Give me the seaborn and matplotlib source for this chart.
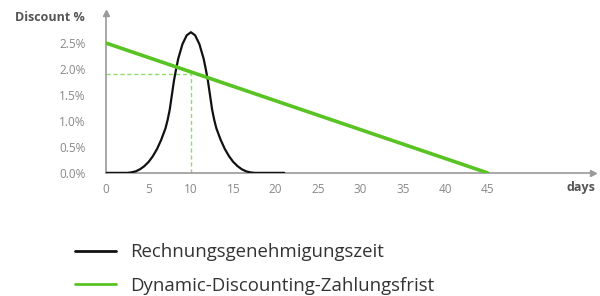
import pandas as pd
import matplotlib.pyplot as plt
import seaborn as sns

# --- Daten ---
approval_days = [0, 2.5, 3, 3.5, 4, 4.5, 5, 5.5, 6, 6.5, 7, 7.25, 7.5, 7.75, 8, 8.25, 8.5, 9, 9.5, 10,
                 10.5, 11, 11.5, 11.75, 12, 12.25, 12.5, 12.75, 13, 13.5, 14, 14.5, 15, 15.5, 16,
                 16.5, 17, 17.5, 21]
approval_share = [0, 0, 0.01, 0.03, 0.07, 0.13, 0.21, 0.32, 0.46, 0.64, 0.86, 1.02, 1.22, 1.5, 1.78, 2.0,
                  2.2, 2.48, 2.65, 2.71,
                  2.65, 2.48, 2.2, 2.0, 1.78, 1.5, 1.22, 1.02, 0.86, 0.64, 0.46, 0.32, 0.21, 0.13, 0.07,
                  0.03, 0.01, 0, 0]
discount_days = [0, 45]
discount_pct = [2.5, 0]
marked_day = 10
marked_discount = 1.9
x_ticks = [0, 5, 10, 15, 20, 25, 30, 35, 40, 45]
y_ticks = [0.0, 0.5, 1.0, 1.5, 2.0, 2.5]

label_black = "Rechnungsgenehmigungszeit"
label_green = "Dynamic-Discounting-Zahlungsfrist"

GREEN = "#58c322"
GREY = "#9a9a9a"

sns.set_style("white")
plt.rcParams["font.family"] = ["Open Sans", "DejaVu Sans"]

df_a = pd.DataFrame({"day": approval_days, "value": approval_share})
df_d = pd.DataFrame({"day": discount_days, "value": discount_pct})

fig = plt.figure(figsize=(6, 2.96), dpi=100)
ax = fig.add_axes([0.177, 0.416, 0.812, 0.54])

# gestrichelte Hilfslinien beim markierten Tag
ax.plot([0, marked_day], [marked_discount, marked_discount], ls=(0, (3, 2)), color="#8fdc6a", lw=1, zorder=1)
ax.plot([marked_day, marked_day], [0, marked_discount], ls=(0, (3, 2)), color="#8fdc6a", lw=1, zorder=1)

sns.lineplot(data=df_a, x="day", y="value", ax=ax, color="#111111", lw=1.6,
             label=label_black, zorder=3)
sns.lineplot(data=df_d, x="day", y="value", ax=ax, color=GREEN, lw=2.6,
             label=label_green, zorder=4)

ax.set_xlim(0, 57.5)
ax.set_ylim(0, 3.08)
ax.set_xticks(x_ticks)
ax.set_yticks(y_ticks)
ax.set_yticklabels([f"{v:.1f}%" for v in y_ticks])
ax.set_xlabel("")
ax.set_ylabel("")
ax.tick_params(axis="both", length=0, labelsize=8.5, labelcolor="#888888")
ax.tick_params(axis="y", pad=15)
ax.tick_params(axis="x", pad=7)

sns.despine(ax=ax)
for s in ["left", "bottom"]:
    ax.spines[s].set_color(GREY)
    ax.spines[s].set_linewidth(1.2)

# Pfeile an den Achsen
ax.plot(1, 0, ">", transform=ax.get_yaxis_transform(), clip_on=False, color=GREY, ms=5)
ax.plot(0, 1, "^", transform=ax.get_xaxis_transform(), clip_on=False, color=GREY, ms=5)

fig.text(0.142, 0.94, "Discount %", ha="right", va="center", fontsize=9,
         fontweight="bold", color="#555555")
fig.text(0.992, 0.365, "days", ha="right", va="center", fontsize=9,
         fontweight="bold", color="#555555")

handles, labels = ax.get_legend_handles_labels()
ax.get_legend().remove()
leg = fig.legend(handles, labels, loc="upper left", bbox_to_anchor=(0.112, 0.203),
                 frameon=False, fontsize=13.4, handlelength=2.2, handletextpad=0.8,
                 labelspacing=0.82, borderaxespad=0)
leg.legend_handles[0].set_linewidth(2)
leg.legend_handles[1].set_linewidth(2)
for t in leg.get_texts():
    t.set_color("#333333")

fig.savefig("out.png", dpi=100)
